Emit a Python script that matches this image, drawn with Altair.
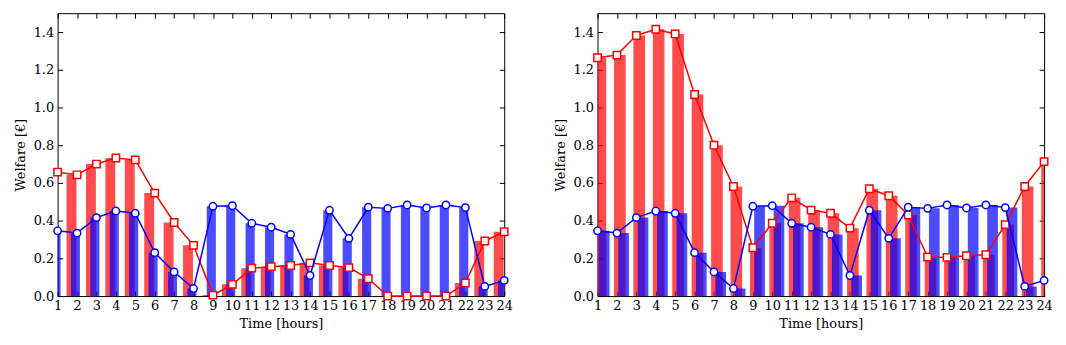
import altair as alt
import pandas as pd

HOURS = list(range(1, 25))
Y_TICKS = [0.0, 0.2, 0.4, 0.6, 0.8, 1.0, 1.2, 1.4]

LEFT_RED = [0.657, 0.643, 0.700, 0.732, 0.722, 0.546, 0.390, 0.269, 0.005, 0.062,
            0.148, 0.156, 0.162, 0.176, 0.162, 0.151, 0.092, 0.0, 0.0, 0.0,
            0.0, 0.069, 0.292, 0.341]
LEFT_BLUE = [0.346, 0.334, 0.416, 0.451, 0.439, 0.230, 0.128, 0.040, 0.476, 0.479,
             0.386, 0.365, 0.327, 0.109, 0.455, 0.306, 0.471, 0.465, 0.483, 0.467,
             0.483, 0.469, 0.051, 0.083]
RIGHT_RED = [1.264, 1.278, 1.382, 1.415, 1.390, 1.069, 0.800, 0.581, 0.256, 0.386,
             0.521, 0.456, 0.439, 0.360, 0.569, 0.532, 0.430, 0.207, 0.205, 0.214,
             0.219, 0.379, 0.581, 0.713]
RIGHT_BLUE = [0.346, 0.334, 0.416, 0.451, 0.439, 0.230, 0.128, 0.040, 0.476, 0.479,
              0.386, 0.365, 0.327, 0.109, 0.455, 0.306, 0.471, 0.465, 0.483, 0.467,
              0.483, 0.469, 0.051, 0.083]

FONT = "DejaVu Serif"
RED = "#ff0000"
BLUE = "#0000ff"


def common_axis(**kw):
    base = dict(offset=-5, tickSize=5, domain=False, grid=False, tickColor="black",
                tickWidth=1, labelFont=FONT, labelFontSize=13, labelColor="black",
                titleFont=FONT, titleFontSize=13, titleFontWeight="normal",
                titleColor="black", labelOverlap=False)
    base.update(kw)
    return alt.Axis(**base)


def panel(red, blue, red_off, blue_off):
    df = pd.DataFrame({"hour": HOURS, "red": red, "blue": blue})
    base = alt.Chart(df)
    xs = alt.Scale(domain=[1, 24], nice=False, zero=False)
    ys = alt.Scale(domain=[0, 1.5], nice=False, zero=True)

    x_axis = common_axis(values=HOURS, format="d", title="Time [hours]",
                         labelPadding=4, titlePadding=5, labelFlush=False)
    y_axis = common_axis(values=Y_TICKS, format=".1f", title="Welfare [€]",
                         labelPadding=4, titlePadding=6)

    red_bars = base.transform_calculate(
        a=f"datum.hour + ({red_off[0]})", b=f"datum.hour + ({red_off[1]})"
    ).mark_bar(color=RED, opacity=0.7, clip=True).encode(
        x=alt.X("a:Q", scale=xs, axis=x_axis),
        x2="b:Q",
        y=alt.Y("red:Q", scale=ys, axis=y_axis),
        y2=alt.datum(0),
    )
    blue_bars = base.transform_calculate(
        a=f"datum.hour + ({blue_off[0]})", b=f"datum.hour + ({blue_off[1]})"
    ).mark_bar(color=BLUE, opacity=0.7, clip=True).encode(
        x=alt.X("a:Q", scale=xs, axis=None),
        x2="b:Q",
        y=alt.Y("blue:Q", scale=ys, axis=None),
        y2=alt.datum(0),
    )
    red_line = base.mark_line(color=RED, strokeWidth=1.5).encode(
        x=alt.X("hour:Q", scale=xs, axis=None),
        y=alt.Y("red:Q", scale=ys, axis=None),
    )
    red_pts = base.mark_point(shape="square", filled=True, fill="white", stroke=RED,
                              strokeWidth=1.5, size=55, opacity=1).encode(
        x=alt.X("hour:Q", scale=xs, axis=None),
        y=alt.Y("red:Q", scale=ys, axis=None),
    )
    blue_line = base.mark_line(color=BLUE, strokeWidth=1.5).encode(
        x=alt.X("hour:Q", scale=xs, axis=None),
        y=alt.Y("blue:Q", scale=ys, axis=None),
    )
    blue_pts = base.mark_point(shape="circle", filled=True, fill="white", stroke=BLUE,
                               strokeWidth=1.5, size=55, opacity=1).encode(
        x=alt.X("hour:Q", scale=xs, axis=None),
        y=alt.Y("blue:Q", scale=ys, axis=None),
    )
    frame_axes = base.mark_point(opacity=0).encode(
        x=alt.X("hour:Q", scale=xs,
                axis=common_axis(orient="top", values=HOURS, labels=False, title="")),
        y=alt.Y("red:Q", scale=ys,
                axis=common_axis(orient="right", values=Y_TICKS, labels=False, title="")),
    )
    return alt.layer(red_bars, blue_bars, red_line, red_pts, blue_line, blue_pts,
                     frame_axes).resolve_axis(x="independent", y="independent").properties(
        width=450, height=285)


left = panel(LEFT_RED, LEFT_BLUE, (-0.54, -0.03), (-0.32, 0.15))
right = panel(RIGHT_RED, RIGHT_BLUE, (-0.15, 0.45), (0.07, 0.62))

chart = alt.hconcat(left, right, spacing=40).properties(
    padding={"left": 5, "top": 3, "right": 5, "bottom": 2}
).configure_view(stroke="black", strokeWidth=1)

chart.save("out.html", embed_options={"renderer": "svg", "actions": False})
